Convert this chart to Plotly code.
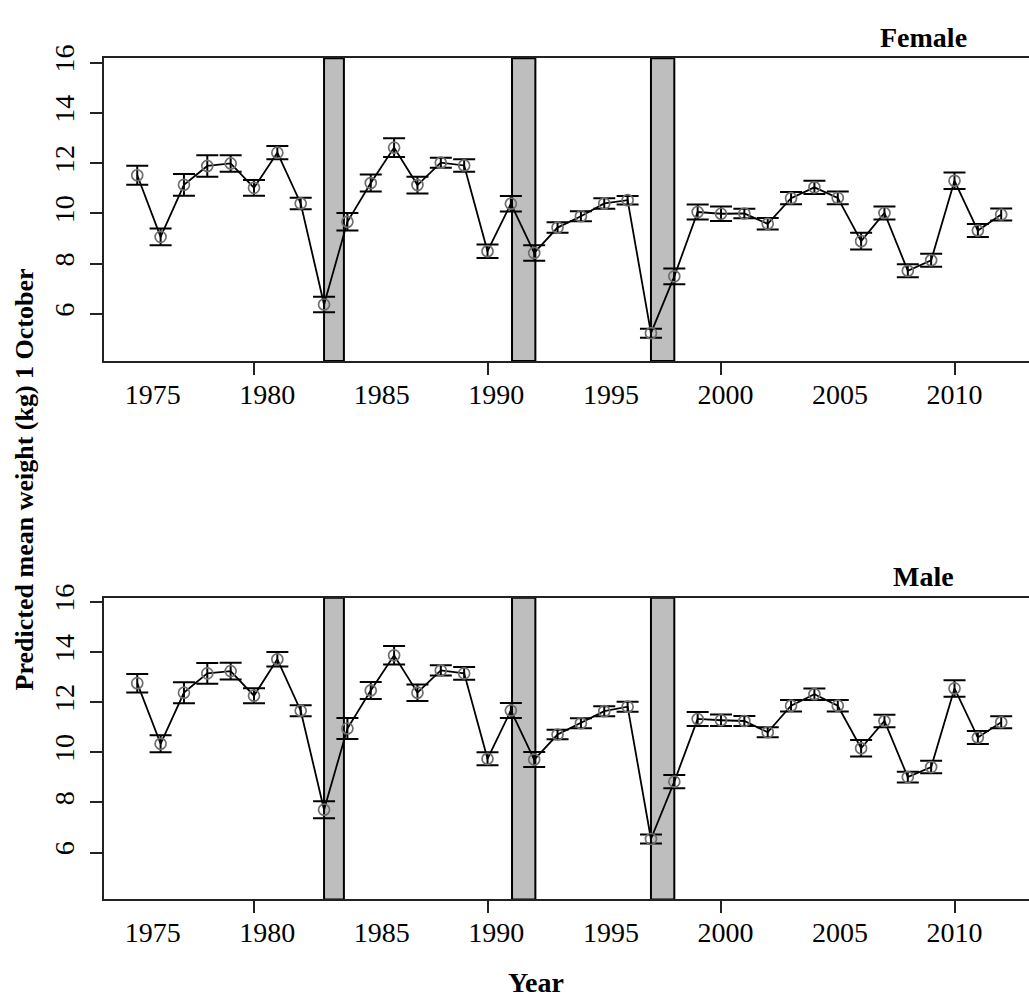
import plotly.graph_objects as go

# Survey years
years = list(range(1975, 2013))

# Predicted mean weight (kg) on 1 October and half-width of the error bars
female_mean = [11.52, 9.07, 11.14, 11.89, 11.99, 11.02, 12.42, 10.40, 6.38, 9.67,
               11.21, 12.62, 11.13, 12.02, 11.91, 8.50, 10.39, 8.43, 9.44, 9.89,
               10.40, 10.53, 5.24, 7.50, 10.06, 9.99, 10.00, 9.59, 10.61, 11.04,
               10.62, 8.90, 10.02, 7.72, 8.14, 11.30, 9.32, 9.96]
female_err = [0.38, 0.33, 0.43, 0.43, 0.33, 0.31, 0.26, 0.23, 0.31, 0.35,
              0.34, 0.37, 0.33, 0.20, 0.25, 0.27, 0.31, 0.31, 0.21, 0.20,
              0.21, 0.17, 0.18, 0.31, 0.30, 0.29, 0.19, 0.23, 0.24, 0.26,
              0.25, 0.33, 0.26, 0.26, 0.26, 0.33, 0.26, 0.24]

male_mean = [12.76, 10.34, 12.38, 13.15, 13.24, 12.26, 13.71, 11.66, 7.71, 10.95,
             12.47, 13.87, 12.38, 13.27, 13.15, 9.74, 11.67, 9.71, 10.71, 11.16,
             11.64, 11.82, 6.54, 8.83, 11.33, 11.28, 11.25, 10.80, 11.86, 12.32,
             11.86, 10.16, 11.25, 9.01, 9.41, 12.55, 10.59, 11.20]
male_err = [0.37, 0.34, 0.42, 0.41, 0.33, 0.30, 0.29, 0.22, 0.34, 0.42,
            0.34, 0.37, 0.33, 0.20, 0.25, 0.26, 0.30, 0.30, 0.19, 0.20,
            0.20, 0.20, 0.18, 0.26, 0.28, 0.23, 0.20, 0.20, 0.23, 0.23,
            0.23, 0.33, 0.25, 0.21, 0.25, 0.33, 0.26, 0.24]

# Shaded periods (start, end in years)
shade_start = [1983.0, 1991.05, 1997.0]
shade_end = [1983.85, 1992.05, 1998.0]

# Axis ticks
x_tick_marks = [1980, 1990, 2000, 2010]
x_tick_labels = [1975, 1980, 1985, 1990, 1995, 2000, 2005, 2010]
y_ticks = [6, 8, 10, 12, 14, 16]

W, H = 1029, 998
SERIF = "Liberation Serif, Times New Roman, serif"
AX = "#222222"

def py(px):
    return 1 - px / H

panels = [
    dict(name="Female", mean=female_mean, err=female_err, top=45, bottom=352),
    dict(name="Male", mean=male_mean, err=male_err, top=592, bottom=898),
]

x_left = 104 / W
x_range = [1973.576, 2013.19]
label_range = [1972.874, 2013.25]
y_range = [4.13, 16.17]

fig = go.Figure()
layout = dict(
    width=W, height=H,
    margin=dict(l=0, r=0, t=0, b=0),
    paper_bgcolor="white", plot_bgcolor="white",
    showlegend=False,
    font=dict(family=SERIF, size=28, color="black"),
    shapes=[], annotations=[],
)

for i, p in enumerate(panels):
    xa = "x" if i == 0 else "x2"
    ya = "y" if i == 0 else "y2"
    xl = "x3" if i == 0 else "x4"
    dom_y = [py(p["bottom"]), py(p["top"])]

    fig.add_trace(go.Scatter(
        x=years, y=p["mean"], xaxis=xa, yaxis=ya,
        mode="lines+markers",
        line=dict(color="black", width=1.8),
        marker=dict(symbol="circle-open", size=11, color="#6e6e6e",
                    line=dict(width=1.7, color="#6e6e6e")),
        error_y=dict(type="data", array=p["err"], visible=True,
                     color="black", thickness=2, width=11),
        hoverinfo="skip",
    ))
    # invisible carrier trace for the label axis
    fig.add_trace(go.Scatter(
        x=x_tick_labels, y=[None] * len(x_tick_labels), xaxis=xl, yaxis=ya,
        mode="markers", hoverinfo="skip",
    ))

    suffix = "" if i == 0 else "2"
    layout["xaxis" + suffix] = dict(
        domain=[x_left, 1], range=x_range, anchor=ya,
        tickvals=x_tick_marks, showticklabels=False,
        ticks="outside", ticklen=12, tickwidth=2, tickcolor=AX,
        showline=True, linecolor=AX, linewidth=2, mirror=True,
        showgrid=False, zeroline=False,
    )
    layout["xaxis" + ("3" if i == 0 else "4")] = dict(
        overlaying=xa, range=label_range, anchor=ya, side="bottom",
        tickvals=x_tick_labels, ticktext=[str(v) for v in x_tick_labels],
        ticks="", showline=False, showgrid=False, zeroline=False,
        tickfont=dict(family=SERIF, size=28, color="black"),
        ticklabelstandoff=14,
    )
    layout["yaxis" + suffix] = dict(
        domain=dom_y, range=y_range, anchor=xa,
        tickvals=y_ticks, ticks="outside", ticklen=12, tickwidth=2,
        tickcolor=AX, tickangle=-90,
        tickfont=dict(family=SERIF, size=28, color="black"),
        ticklabelstandoff=5,
        showline=True, linecolor=AX, linewidth=2, mirror=False,
        showgrid=False, zeroline=False,
    )

    for s0, s1 in zip(shade_start, shade_end):
        layout["shapes"].append(dict(
            type="rect", xref=xa, yref=ya + " domain",
            x0=s0, x1=s1, y0=0, y1=1,
            fillcolor="#bebebe", line=dict(color="black", width=2),
            layer="below",
        ))

    layout["annotations"].append(dict(
        text="<b>%s</b>" % p["name"], xref="paper", yref="paper",
        x=923 / W, y=py(p["top"] - 21), xanchor="center", yanchor="middle",
        showarrow=False, font=dict(family=SERIF, size=28, color="black"),
    ))

layout["annotations"].append(dict(
    text="<b>Year</b>", xref="paper", yref="paper",
    x=536 / W, y=py(982), xanchor="center", yanchor="middle",
    showarrow=False, font=dict(family=SERIF, size=28, color="black"),
))
layout["annotations"].append(dict(
    text="<b>Predicted mean weight (kg) 1 October</b>", xref="paper", yref="paper",
    x=24 / W, y=py(472), xanchor="center", yanchor="middle", textangle=-90,
    showarrow=False, font=dict(family=SERIF, size=26, color="black"),
))

fig.update_layout(**layout)
fig.write_html("out.html")
